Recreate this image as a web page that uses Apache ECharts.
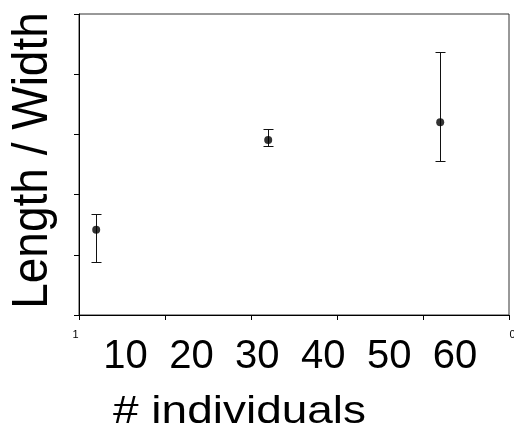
<!DOCTYPE html>
<html>
<head>
<meta charset="utf-8">
<script src="https://cdn.jsdelivr.net/npm/echarts@6/dist/echarts.min.js"></script>
<style>
html,body{margin:0;padding:0;background:#fff;overflow:hidden;}
#chart{width:514px;height:441px;}
</style>
</head>
<body>
<div id="chart"></div>
<script>
// Data
const xPositions = [0.2, 2.2, 4.2];
const means = [1.417, 2.907, 3.2];
const lowers = [0.885, 2.807, 2.563];
const uppers = [1.673, 3.09, 4.373];
const bigTickLabels = ['10', '20', '30', '40', '50', '60'];
const smallTickLabels = {0: '1', 5: '0'};
const xTitle = '# individuals';
const yTitle = 'Length / Width';

const FONT = '"Liberation Sans", Arial, Helvetica, sans-serif';

const chart = echarts.init(document.getElementById('chart'), null, {renderer: 'canvas'});

const errData = xPositions.map((x, i) => [x, lowers[i], uppers[i]]);
const ptData = xPositions.map((x, i) => [x, means[i]]);

const option = {
  animation: false,
  backgroundColor: '#fff',
  grid: [
    {left: 79, right: 5, top: 14, bottom: 126, show: true, borderColor: '#333', borderWidth: 1,
     backgroundColor: 'transparent', containLabel: false, outerBoundsMode: 'none'},
    {left: 92.5, right: 26, top: 336, height: 1, show: false, containLabel: false, outerBoundsMode: 'none'}
  ],
  xAxis: [
    {
      gridIndex: 0, type: 'value', min: 0, max: 5, interval: 1,
      axisLine: {show: true, lineStyle: {color: '#000', width: 1}},
      axisTick: {show: true, inside: false, length: 5, lineStyle: {color: '#000'}},
      splitLine: {show: false},
      axisLabel: {
        show: true, showMinLabel: true, showMaxLabel: true, hideOverlap: false,
        margin: 14, fontFamily: FONT, fontSize: 11, color: '#000',
        formatter: v => {
          if (v === 0) return '{a|' + smallTickLabels[0] + '}';
          if (v === 5) return '{b|' + smallTickLabels[5] + '}';
          return '';
        },
        rich: {
          a: {fontFamily: FONT, fontSize: 11, color: '#000', padding: [0, 7, 0, 0]},
          b: {fontFamily: FONT, fontSize: 11, color: '#000', padding: [0, 0, 0, 7]}
        }
      }
    },
    {
      gridIndex: 1, type: 'category', data: bigTickLabels,
      axisLine: {show: false}, axisTick: {show: false}, splitLine: {show: false},
      axisLabel: {interval: 0, margin: 0, fontFamily: FONT, fontSize: 40, lineHeight: 40, color: '#000'}
    }
  ],
  yAxis: [
    {
      gridIndex: 0, type: 'value', min: 0, max: 5, interval: 1,
      axisLine: {show: true, lineStyle: {color: '#000', width: 1}},
      axisTick: {show: true, inside: false, length: 5, lineStyle: {color: '#000'}},
      splitLine: {show: false},
      axisLabel: {show: false}
    },
    {gridIndex: 1, type: 'value', show: false}
  ],
  series: [
    {
      type: 'custom', xAxisIndex: 0, yAxisIndex: 0, data: errData,
      renderItem: (params, api) => {
        const x = api.value(0);
        const top = api.coord([x, api.value(2)]);
        const bot = api.coord([x, api.value(1)]);
        const cx = Math.round(top[0]) + 0.5;
        const ty = Math.round(top[1]) + 0.5;
        const by = Math.round(bot[1]) + 0.5;
        const hw = 5;
        const st = {stroke: '#111', lineWidth: 1};
        return {
          type: 'group',
          children: [
            {type: 'line', shape: {x1: cx, y1: ty, x2: cx, y2: by}, style: st},
            {type: 'line', shape: {x1: cx - hw, y1: ty, x2: cx + hw, y2: ty}, style: st},
            {type: 'line', shape: {x1: cx - hw, y1: by, x2: cx + hw, y2: by}, style: st}
          ]
        };
      },
      z: 2
    },
    {
      type: 'scatter', xAxisIndex: 0, yAxisIndex: 0, data: ptData,
      symbol: 'circle', symbolSize: 8,
      itemStyle: {color: '#000'}, z: 3
    }
  ],
  graphic: [
    {
      type: 'text', x: 33.5, y: 160.5, rotation: Math.PI / 2, scaleY: 1.09,
      style: {
        text: yTitle, fontFamily: FONT, fontSize: 46, fill: '#000',
        align: 'center', verticalAlign: 'middle', textAlign: 'center', textVerticalAlign: 'middle'
      }
    },
    {
      type: 'text', x: 113, y: 413, scaleX: 1.21,
      style: {
        text: xTitle, fontFamily: FONT, fontSize: 38, fill: '#000',
        align: 'left', verticalAlign: 'middle', textAlign: 'left', textVerticalAlign: 'middle'
      }
    }
  ]
};

chart.setOption(option);
</script>
</body>
</html>
